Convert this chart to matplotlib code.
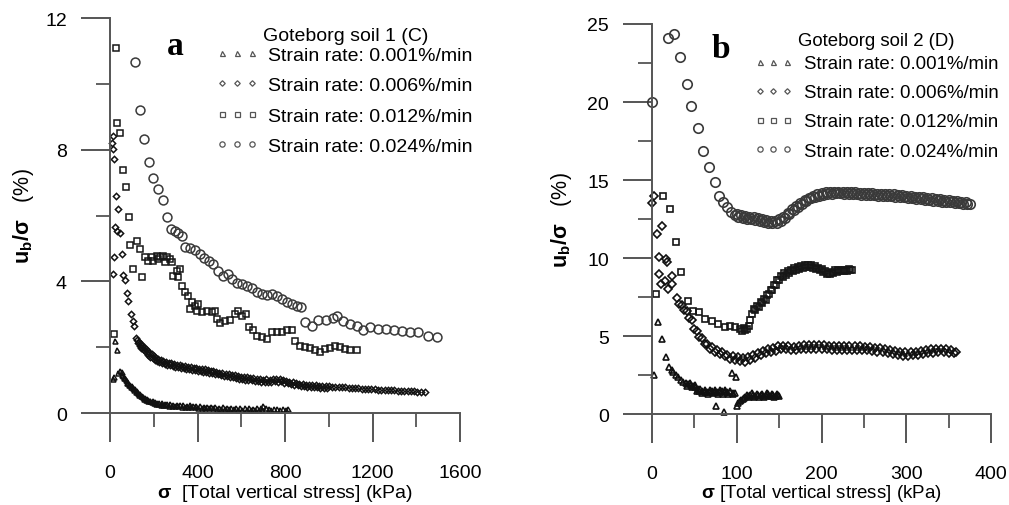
import matplotlib
matplotlib.use("Agg")
import matplotlib.pyplot as plt
from matplotlib.lines import Line2D
from matplotlib.ticker import MultipleLocator

plt.rcParams["font.family"] = ["Liberation Sans", "DejaVu Sans"]
plt.rcParams["mathtext.fontset"] = "custom"
plt.rcParams["mathtext.rm"] = "Liberation Sans"
plt.rcParams["mathtext.bf"] = "Liberation Sans:bold"

# ---------------- panel a : Goteborg soil 1 (C) ----------------
a_x_001 = [12, 20, 23, 30, 38, 46, 53, 61, 69, 76, 84, 92, 100, 107, 115, 122, 130, 137,
           145, 153, 160, 168, 176, 185, 195, 205, 215, 225, 238, 250, 262, 275, 290, 305,
           320, 335, 350, 365, 380, 395, 411, 428, 445, 462, 480, 498, 515, 535, 555, 575,
           595, 615, 635, 655, 672, 690, 700, 712, 725, 738, 750, 763, 776, 790, 803, 815,
           57, 65, 72, 80, 88, 96, 104, 111, 119, 126, 134, 141, 149, 157, 164, 172, 181,
           190, 200, 210, 220, 232, 244, 256, 268, 282, 298, 312, 328, 342, 358, 372, 388,
           403, 420, 436, 454, 471, 489, 507, 525, 545, 565, 585, 605, 625, 645, 663, 681, 695]
a_y_001 = [1.02, 1.10, 2.18, 1.92, 1.22, 1.27, 1.25, 1.12, 1.05, 0.98, 0.92, 0.86, 0.82, 0.76,
           0.72, 0.66, 0.62, 0.58, 0.53, 0.49, 0.46, 0.43, 0.40, 0.37, 0.35, 0.33, 0.31, 0.30,
           0.29, 0.27, 0.26, 0.27, 0.25, 0.24, 0.25, 0.23, 0.22, 0.23, 0.21, 0.20, 0.21, 0.19,
           0.18, 0.19, 0.17, 0.16, 0.17, 0.16, 0.15, 0.16, 0.14, 0.15, 0.14, 0.13, 0.15, 0.14,
           0.20, 0.16, 0.12, 0.10, 0.13, 0.11, 0.09, 0.12, 0.10, 0.11,
           1.16, 1.06, 0.99, 0.92, 0.86, 0.80, 0.75, 0.70, 0.65, 0.61, 0.56, 0.52, 0.48, 0.44,
           0.41, 0.38, 0.35, 0.33, 0.30, 0.28, 0.27, 0.25, 0.24, 0.23, 0.22, 0.21, 0.21, 0.20,
           0.19, 0.19, 0.18, 0.17, 0.17, 0.16, 0.16, 0.15, 0.14, 0.14, 0.13, 0.12, 0.12, 0.11,
           0.11, 0.10, 0.10, 0.09, 0.09, 0.08, 0.09, 0.08]

a_x_006 = [8, 12, 15, 20, 27, 38, 23, 34, 46, 18, 53, 15, 61, 69, 76, 84, 94, 104, 111,
           119, 125, 132, 140, 148, 156, 164, 172, 180, 190, 200, 210, 220, 232, 244, 256,
           268, 280, 292, 305, 318, 330, 343, 356, 369, 382, 395, 408, 421, 434, 447, 460,
           473, 486, 500, 514, 528, 542, 556, 570, 584, 598, 612, 626, 640, 655, 670, 685,
           700, 715, 730, 745, 760, 775, 790, 805, 820, 835, 850, 865, 880, 895, 910, 925,
           940, 955, 970, 985, 1000, 1015, 1030, 1045, 1060, 1075, 1090, 1105, 1120, 1135,
           1150, 1165, 1180, 1195, 1210, 1225, 1240, 1255, 1270, 1285, 1300, 1315, 1330,
           1345, 1360, 1375, 1390, 1405, 1420, 1440,
           126, 136, 144, 152, 160, 168, 176, 185, 195, 205, 215, 226, 238, 250, 262, 274,
           286, 298, 311, 324, 336, 349, 362, 375, 388, 401, 414, 427, 440, 453, 466, 480,
           493, 507, 521, 535, 549, 563, 577, 591, 605, 619, 633, 647, 662, 677, 692, 707,
           722, 737, 752, 767, 782, 797, 812, 827, 842, 857, 872, 887, 902, 917, 932, 947,
           962, 977, 992]
a_y_006 = [8.20, 8.41, 8.01, 7.71, 6.58, 6.21, 5.64, 5.54, 5.48, 4.73, 4.83, 4.22, 4.19, 4.04,
           3.65, 3.41, 3.01, 2.81, 2.63,
           2.27, 2.22, 2.17, 2.11, 2.05, 2.00, 1.94, 1.88, 1.83, 1.78, 1.73, 1.68, 1.65, 1.61,
           1.58, 1.55, 1.53, 1.51, 1.50, 1.47, 1.46, 1.44, 1.43, 1.40, 1.41, 1.38, 1.37, 1.35,
           1.34, 1.33, 1.30, 1.29, 1.27, 1.25, 1.23, 1.22, 1.19, 1.17, 1.16, 1.14, 1.12, 1.10,
           1.09, 1.08, 1.06, 1.05, 1.03, 1.02, 1.01, 1.02, 1.01, 1.03, 1.02, 1.03, 1.00, 0.97,
           0.95, 0.93, 0.91, 0.89, 0.87, 0.86, 0.85, 0.84, 0.84, 0.83, 0.83, 0.82, 0.81, 0.80,
           0.80, 0.79, 0.78, 0.78, 0.77, 0.76, 0.76, 0.75, 0.74, 0.74, 0.73, 0.72, 0.72, 0.71,
           0.71, 0.70, 0.70, 0.69, 0.69, 0.68, 0.68, 0.67, 0.67, 0.66, 0.66, 0.65, 0.65, 0.64,
           2.12, 2.05, 1.98, 1.93, 1.88, 1.82, 1.77, 1.70, 1.66, 1.61, 1.58, 1.54, 1.51, 1.49,
           1.46, 1.45, 1.42, 1.41, 1.39, 1.37, 1.36, 1.34, 1.33, 1.32, 1.30, 1.29, 1.27, 1.26,
           1.24, 1.23, 1.21, 1.19, 1.17, 1.15, 1.13, 1.11, 1.10, 1.08, 1.06, 1.04, 1.03, 1.01,
           1.00, 0.99, 0.97, 0.96, 0.95, 0.94, 0.95, 0.94, 0.96, 0.95, 0.96, 0.92, 0.90, 0.88,
           0.86, 0.84, 0.83, 0.81, 0.80, 0.79, 0.78, 0.78, 0.77, 0.77, 0.76]

a_x_012 = [20, 27, 34, 46, 58, 73, 88, 91, 122, 137, 107, 148, 160, 175, 190, 213, 229, 244,
           259, 274, 198, 221, 251, 282, 290, 305, 320, 312, 328, 343, 358, 373, 389, 404,
           366, 396, 419, 442, 465, 480, 488, 503, 526, 549, 572, 587, 602, 622, 637, 652,
           670, 693, 716, 739, 762, 785, 808, 830, 846, 869, 891, 914, 937, 960, 983, 1006,
           1029, 1051, 1074, 1097, 1128]
a_y_012 = [2.40, 11.09, 8.80, 8.52, 7.38, 6.87, 5.94, 5.10, 5.23, 4.98, 4.39, 4.14, 4.73, 4.63,
           4.73, 4.78, 4.73, 4.78, 4.73, 4.68, 4.63, 4.68, 4.58, 4.58, 4.17, 4.32, 4.37, 4.12,
           3.87, 3.67, 3.57, 3.36, 3.26, 3.31, 3.16, 3.11, 3.06, 3.11, 3.06, 3.11, 2.86, 2.74,
           2.81, 2.84, 3.01, 3.11, 2.96, 3.01, 2.61, 2.51, 2.35, 2.30, 2.25, 2.45, 2.47, 2.45,
           2.51, 2.53, 2.20, 2.05, 2.00, 1.97, 1.90, 1.85, 1.95, 1.99, 2.03, 2.00, 1.95, 1.92,
           1.90]

a_x_024 = [114, 137, 155, 178, 195, 218, 241, 259, 277, 297, 312, 331, 343, 366, 389, 411,
           430, 453, 472, 495, 515, 538, 556, 579, 602, 625, 648, 670, 693, 716, 739, 762,
           785, 808, 830, 853, 873, 891, 922, 951, 985, 1021, 1036, 1067, 1097, 1128, 1158,
           1189, 1227, 1262, 1298, 1333, 1371, 1409, 1455, 1493]
a_y_024 = [10.67, 9.22, 8.33, 7.64, 7.13, 6.82, 6.46, 5.97, 5.59, 5.54, 5.48, 5.38, 5.03, 5.00,
           4.96, 4.83, 4.70, 4.63, 4.53, 4.32, 4.17, 4.22, 4.07, 3.95, 3.92, 3.87, 3.79, 3.69,
           3.62, 3.59, 3.62, 3.54, 3.46, 3.38, 3.31, 3.26, 3.21, 2.75, 2.63, 2.83, 2.84, 2.88,
           2.96, 2.80, 2.70, 2.65, 2.53, 2.60, 2.55, 2.55, 2.53, 2.48, 2.45, 2.45, 2.35, 2.30]

# ---------------- panel b : Goteborg soil 2 (D) ----------------
b_x_001 = [2, 7, 12, 16, 20, 23, 25, 28, 31, 34, 37, 40, 43, 46, 48, 51, 54, 56, 59, 62, 65,
           68, 71, 74, 77, 80, 83, 86, 89, 92, 95, 98, 76, 85, 94, 99, 100, 102, 104, 107,
           110, 113, 116, 119, 122, 125, 128, 131, 134, 137, 140, 143, 146, 149,
           41.5, 44.5, 47.5, 50.5, 53.5, 56.5, 59.5, 62.5, 65.5, 68.5, 71.5, 74.5, 77.5, 80.5,
           83.5, 86.5, 89.5, 92.5, 95.5, 105.5, 108.5, 111.5, 114.5, 117.5, 120.5, 123.5,
           126.5, 129.5, 132.5, 135.5, 138.5, 141.5, 144.5, 147.5, 150]
b_y_001 = [2.50, 5.88, 4.81, 3.63, 2.99, 2.80, 2.67, 2.50, 2.35, 2.20, 2.03, 1.98, 1.92, 1.85,
           1.82, 1.70, 1.58, 1.50, 1.45, 1.40, 1.42, 1.38, 1.45, 1.40, 1.43, 1.38, 1.45, 1.40,
           1.38, 1.42, 1.35, 1.32, 0.53, 0.10, 2.63, 2.35, 0.53, 0.70, 0.85, 0.98, 1.10, 1.15,
           1.25, 1.20, 1.18, 1.25, 1.20, 1.15, 1.22, 1.28, 1.18, 1.20, 1.15, 1.20,
           1.80, 2.02, 1.70, 1.85, 1.45, 1.62, 1.32, 1.55, 1.30, 1.52, 1.32, 1.55, 1.30, 1.52,
           1.30, 1.52, 1.28, 1.50, 1.30, 0.92, 1.00, 1.22, 1.10, 1.32, 1.12, 1.30, 1.12, 1.30,
           1.10, 1.32, 1.14, 1.30, 1.10, 1.26, 1.18]

b_x_006 = [2, 0.5, 6, 12, 8, 17, 18, 8, 11, 19, 15, 23, 24,
           29, 32, 35, 38, 41, 44, 47, 50, 53, 56, 59, 62, 65, 68, 71, 74, 77, 80, 83, 86, 89,
           92, 95, 98, 101, 104, 107, 110, 113, 116, 119, 122, 125, 128, 131, 134, 137, 140,
           143, 146, 149, 152, 155, 158, 161, 164, 167, 170, 173, 176, 179, 182, 185, 188,
           191, 194, 197, 200, 203, 206, 209, 212, 215, 218, 221, 224, 227, 230, 233, 236,
           239, 242, 245, 248, 251, 254, 257, 260, 263, 266, 269, 272, 275, 278, 281, 284,
           287, 290, 293, 296, 299, 302, 305, 308, 311, 314, 317, 320, 323, 326, 329, 332,
           335, 338, 341, 344, 347, 350, 353, 356, 359]
b_y_006 = [14.00, 13.50, 11.54, 12.07, 10.04, 9.94, 9.72, 8.97, 8.33, 8.01, 8.55, 8.33, 8.87,
           7.45, 7.05, 7.00, 6.65, 6.60, 6.15, 6.05, 5.45, 5.35, 4.95, 4.90, 4.50, 4.52, 4.18,
           4.28, 3.98, 4.12, 3.84, 3.98, 3.70, 3.80, 3.52, 3.70, 3.44, 3.64, 3.38, 3.58, 3.36,
           3.66, 3.48, 3.80, 3.62, 3.92, 3.76, 4.04, 3.88, 4.14, 3.96, 4.24, 4.06, 4.34, 4.14,
           4.38, 4.16, 4.36, 4.12, 4.32, 4.10, 4.36, 4.14, 4.40, 4.16, 4.42, 4.18, 4.44, 4.18,
           4.42, 4.16, 4.40, 4.14, 4.38, 4.12, 4.34, 4.10, 4.34, 4.10, 4.34, 4.10, 4.36, 4.12,
           4.38, 4.12, 4.34, 4.08, 4.32, 4.08, 4.28, 4.04, 4.26, 4.00, 4.22, 3.96, 4.16, 3.90,
           4.10, 3.84, 4.02, 3.78, 3.98, 3.74, 3.96, 3.74, 3.98, 3.76, 4.00, 3.80, 4.04, 3.84,
           4.10, 3.90, 4.14, 3.94, 4.18, 3.96, 4.18, 3.96, 4.16, 3.94, 4.10, 3.88, 3.95]

b_x_012 = [5, 13, 21, 28, 34, 42, 48, 56, 63, 71, 78, 86, 92, 98,
           104, 106, 108, 110, 112, 114, 116, 118, 120, 122, 124, 126, 128, 130, 132, 134,
           136, 138, 140, 142, 144, 146, 148, 150, 152, 154, 156, 158, 160, 162, 164, 166,
           168, 170, 172, 174, 176, 178, 180, 182, 184, 186, 188, 190, 192, 194, 196, 198,
           200, 202, 204, 206, 208, 210, 212, 214, 216, 218, 220, 222, 224, 226, 228, 230,
           232, 234, 236]
b_y_012 = [7.69, 14.00, 13.14, 11.00, 9.08, 7.26, 6.62, 6.52, 6.09, 5.98, 5.77, 5.56, 5.66,
           5.56,
           5.45, 5.32, 5.52, 5.36, 5.48, 5.62, 6.02, 6.40, 6.70, 6.68, 6.92, 6.88, 7.16, 7.12,
           7.36, 7.32, 7.64, 7.72, 7.98, 7.96, 8.30, 8.26, 8.58, 8.60, 8.84, 8.80, 9.02, 8.94,
           9.16, 9.06, 9.26, 9.16, 9.36, 9.26, 9.44, 9.32, 9.48, 9.36, 9.52, 9.40, 9.54, 9.42,
           9.52, 9.38, 9.46, 9.30, 9.38, 9.22, 9.28, 9.10, 9.14, 8.98, 9.06, 8.98, 9.12, 9.06,
           9.20, 9.12, 9.24, 9.14, 9.26, 9.16, 9.26, 9.18, 9.28, 9.20, 9.25]

b_x_024 = [0.5, 19, 26, 33, 41, 46, 54, 60, 67, 74, 79, 84, 89, 93, 98,
           100, 102, 105, 107, 110, 112, 115, 117, 120, 122, 125, 127, 130, 132, 135, 137,
           140, 142, 145, 147, 150, 152, 155, 157, 160, 162, 165, 167, 170, 172, 175, 177,
           180, 182, 185, 187, 190, 192, 195, 197, 200, 202, 205, 207, 210, 212, 215, 217,
           220, 222, 225, 227, 230, 232, 235, 237, 240, 242, 245, 247, 250, 252, 255, 257,
           260, 262, 265, 267, 270, 272, 275, 277, 280, 282, 285, 287, 290, 292, 295, 297,
           300, 302, 305, 307, 310, 312, 315, 317, 320, 322, 325, 327, 330, 332, 335, 337,
           340, 342, 345, 347, 350, 352, 355, 357, 360, 362, 365, 367, 370, 372, 375]
b_y_024 = [20.00, 24.08, 24.36, 22.86, 21.15, 19.76, 18.31, 16.88, 15.81, 14.85, 14.00, 13.57,
           13.25, 12.93, 12.76,
           12.80, 12.62, 12.74, 12.58, 12.70, 12.52, 12.66, 12.50, 12.62, 12.44, 12.55, 12.38,
           12.50, 12.32, 12.42, 12.26, 12.38, 12.22, 12.40, 12.26, 12.48, 12.36, 12.66, 12.58,
           12.90, 12.84, 13.12, 13.06, 13.32, 13.28, 13.52, 13.48, 13.70, 13.66, 13.86, 13.82,
           13.98, 13.94, 14.08, 14.00, 14.16, 14.06, 14.20, 14.10, 14.22, 14.12, 14.24, 14.14,
           14.26, 14.14, 14.24, 14.12, 14.24, 14.12, 14.22, 14.10, 14.20, 14.08, 14.18, 14.06,
           14.17, 14.05, 14.15, 14.04, 14.14, 14.02, 14.12, 14.00, 14.12, 14.00, 14.10, 13.98,
           14.10, 13.96, 14.08, 13.94, 14.06, 13.92, 14.02, 13.90, 14.00, 13.86, 13.96, 13.82,
           13.94, 13.80, 13.90, 13.76, 13.88, 13.74, 13.84, 13.70, 13.82, 13.68, 13.78, 13.64,
           13.76, 13.62, 13.74, 13.60, 13.72, 13.58, 13.68, 13.54, 13.64, 13.50, 13.60, 13.48,
           13.56, 13.46, 13.45]

rate_labels = ["Strain rate: 0.001%/min", "Strain rate: 0.006%/min",
               "Strain rate: 0.012%/min", "Strain rate: 0.024%/min"]
markers = ["^", "D", "s", "o"]
edge_colors = ["#111111", "#111111", "#161616", "#3a3a3a"]
legend_sizes = [3.6, 2.8, 3.6, 3.8]
axis_color = "#555555"


def draw_series(ax, series, sizes, mew):
    for (xs, ys), m, c, s in zip(series, markers, edge_colors, sizes):
        ax.plot(xs, ys, linestyle="none", marker=m, markersize=s, mfc="none",
                mec=c, mew=mew, clip_on=False)


def style_axes(ax, xmax, ymax, xmaj, ymaj):
    ax.set_xlim(0, xmax)
    ax.set_ylim(0, ymax)
    for side in ("top", "right"):
        ax.spines[side].set_visible(False)
    for side in ("left", "bottom"):
        ax.spines[side].set_color(axis_color)
        ax.spines[side].set_linewidth(1.4)
    ax.xaxis.set_major_locator(MultipleLocator(xmaj))
    ax.xaxis.set_minor_locator(MultipleLocator(xmaj / 2))
    ax.yaxis.set_major_locator(MultipleLocator(ymaj))
    ax.yaxis.set_minor_locator(MultipleLocator(ymaj / 2))
    ax.tick_params(which="major", direction="out", length=21, width=1.4,
                   color=axis_color, labelsize=14)
    ax.tick_params(which="minor", direction="out", length=10, width=1.3,
                   color=axis_color)
    ax.tick_params(axis="x", which="major", pad=16)
    ax.tick_params(axis="y", which="major", pad=10)


def add_legend(ax, title, x_title, y_title, anchor, fs, hlen, tpad, lspace):
    handles = [Line2D([], [], linestyle="none", marker=m, markersize=s, mfc="none",
                      mec="#555555", mew=0.9) for m, s in zip(markers, legend_sizes)]
    ax.legend(handles, rate_labels, loc="upper left", bbox_to_anchor=anchor,
              frameon=False, numpoints=3, fontsize=fs, borderpad=0, borderaxespad=0,
              handlelength=hlen, handletextpad=tpad, labelspacing=lspace)
    ax.text(x_title, y_title, title, transform=ax.transAxes, fontsize=fs,
            ha="left", va="center")


fig = plt.figure(figsize=(10.09, 5.06), dpi=100)
ax_a = fig.add_axes([0.109, 0.1818, 0.347, 0.7806])
ax_b = fig.add_axes([0.6462, 0.1798, 0.336, 0.7708])

draw_series(ax_a, [(a_x_001, a_y_001), (a_x_006, a_y_006), (a_x_012, a_y_012),
                   (a_x_024, a_y_024)], [3.6, 3.2, 4.8, 6.4], 1.1)
draw_series(ax_b, [(b_x_001, b_y_001), (b_x_006, b_y_006), (b_x_012, b_y_012),
                   (b_x_024, b_y_024)], [4.2, 3.6, 5.0, 6.8], 1.2)

style_axes(ax_a, 1600, 12, 400, 4)
style_axes(ax_b, 400, 25, 100, 5)

ylab = r"$\mathbf{u_b/\sigma}$   (%)"
for ax, lx in ((ax_a, -0.212), (ax_b, -0.229)):
    ax.set_ylabel(ylab, fontsize=15.5)
    ax.yaxis.set_label_coords(lx, 0.5)

ax_a.set_xlabel(r"$\mathbf{\sigma}$  [Total vertical stress] (kPa)", fontsize=14)
ax_a.xaxis.set_label_coords(0.5, -0.175)
ax_b.set_xlabel(r"$\mathbf{\sigma}$ [Total vertical stress] (kPa)", fontsize=13.5)
ax_b.xaxis.set_label_coords(0.5, -0.174)

ax_a.text(0.163, 0.909, "a", transform=ax_a.transAxes, fontsize=24, fontweight="bold",
          family="Liberation Serif", ha="left", va="baseline")
ax_b.text(0.177, 0.915, "b", transform=ax_b.transAxes, fontsize=24, fontweight="bold",
          family="Liberation Serif", ha="left", va="baseline")

add_legend(ax_a, "Goteborg soil 1 (C)", 0.437, 0.957, (0.303, 0.929), 14, 2.15, 0.52, 0.66)
add_legend(ax_b, "Goteborg soil 2 (D)", 0.431, 0.957, (0.302, 0.920), 13.4, 2.05, 0.61, 0.65)

fig.savefig("out.png", dpi=100)
